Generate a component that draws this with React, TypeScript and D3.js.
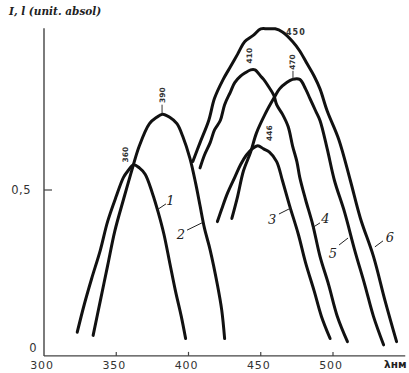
import React from 'react';
import * as d3 from 'd3';

const W = 409;
const H = 373;

// wavelength (nm) and intensity (unit. absol) for each curve
const curve1Wl = [323, 328, 333, 339, 344, 350, 355, 358, 362, 366, 370, 375, 379, 383, 387, 391, 395, 398];
const curve1I = [0.05, 0.14, 0.22, 0.31, 0.4, 0.48, 0.54, 0.56, 0.58, 0.57, 0.55, 0.49, 0.43, 0.36, 0.27, 0.18, 0.1, 0.03];

const curve2Wl = [334, 339, 344, 349, 355, 360, 366, 373, 378, 382, 387, 392, 396, 401, 405, 408, 411, 415, 420, 423, 425];
const curve2I = [0.04, 0.15, 0.26, 0.37, 0.47, 0.55, 0.64, 0.71, 0.73, 0.74, 0.73, 0.71, 0.67, 0.6, 0.52, 0.45, 0.38, 0.31, 0.2, 0.12, 0.03];

const curve3Wl = [420, 423, 427, 432, 436, 440, 444, 448, 452, 456, 461, 465, 470, 476, 481, 487, 492, 498];
const curve3I = [0.4, 0.44, 0.49, 0.54, 0.58, 0.61, 0.63, 0.64, 0.63, 0.62, 0.59, 0.53, 0.45, 0.36, 0.27, 0.18, 0.1, 0.03];

const curve4Wl = [408, 411, 415, 418, 422, 425, 429, 432, 436, 439, 443, 446, 450, 452, 455, 459, 461, 465, 469, 472, 475, 477, 481, 486, 491, 497, 503, 510];
const curve4I = [0.57, 0.61, 0.65, 0.69, 0.72, 0.77, 0.81, 0.84, 0.86, 0.87, 0.88, 0.88, 0.86, 0.85, 0.83, 0.8, 0.77, 0.74, 0.7, 0.64, 0.59, 0.54, 0.47, 0.39, 0.29, 0.2, 0.1, 0.02];

const curve5Wl = [430, 434, 438, 443, 447, 453, 459, 463, 468, 472, 477, 481, 484, 488, 491, 496, 501, 508, 515, 522, 528, 535];
const curve5I = [0.41, 0.48, 0.56, 0.62, 0.68, 0.74, 0.79, 0.82, 0.84, 0.85, 0.85, 0.82, 0.79, 0.75, 0.72, 0.63, 0.53, 0.43, 0.31, 0.2, 0.1, 0.01];

const curve6Wl = [403, 408, 414, 418, 424, 429, 434, 439, 445, 450, 455, 460, 465, 472, 477, 482, 487, 491, 496, 504, 512, 519, 528, 536, 544];
const curve6I = [0.59, 0.65, 0.72, 0.79, 0.85, 0.89, 0.93, 0.97, 0.99, 1.01, 1.01, 1.01, 1.0, 0.97, 0.94, 0.9, 0.86, 0.82, 0.75, 0.66, 0.53, 0.41, 0.29, 0.15, 0.02];

const curveWls = [curve1Wl, curve2Wl, curve3Wl, curve4Wl, curve5Wl, curve6Wl];
const curveIs = [curve1I, curve2I, curve3I, curve4I, curve5I, curve6I];

const curveNames = ['1', '2', '3', '4', '5', '6'];
// label position and leader (from -> to) in data coordinates
const nameLabelWl = [387.5, 394.8, 457.8, 494.8, 500.0, 539.4];
const nameLabelI = [0.468, 0.361, 0.408, 0.411, 0.301, 0.351];
const leaderFromWl = [384.4, 399.0, 462.6, 491.0, 504.2, 534.6];
const leaderFromI = [0.456, 0.373, 0.424, 0.396, 0.326, 0.339];
const leaderToWl = [378.2, 409.3, 470.9, 485.5, 510.4, 529.0];
const leaderToI = [0.437, 0.396, 0.443, 0.38, 0.348, 0.32];

const peakLabels = ['360', '390', '446', '410', '470', '450'];
const peakLabelWl = [356.1, 381.7, 455.9, 441.9, 471.8, 474.3];
const peakLabelI = [0.612, 0.8, 0.68, 0.925, 0.905, 1.0];
const peakRotated = [true, true, true, true, true, false];

const xTickValues = [300, 350, 400, 450, 500];
const xTickLabels = ['300', '350', '400', '450', '500'];
const yTickValues = [0, 0.5];
const yTickLabels = ['0', '0,5'];

export default function App() {
  const x = d3.scaleLinear().domain([300, 550]).range([44, 405.25]);
  const y = d3.scaleLinear().domain([0, 1]).range([348, 32]);
  const line = d3
    .line<[number, number]>()
    .x((d) => x(d[0]))
    .y((d) => y(d[1]))
    .curve(d3.curveCatmullRom.alpha(0.5));

  const axisY = y(-0.025);
  const axisTop = y(1.012);
  const tickFont = '"DejaVu Sans", sans-serif';

  return (
    <svg
      width={W}
      height={H}
      viewBox={`0 0 ${W} ${H}`}
      style={{ position: 'absolute', left: 0, top: 0, background: '#fff' }}
    >
      <rect x={0} y={0} width={W} height={H} fill="#fff" />
      {/* axes */}
      <line x1={x(300)} y1={axisTop} x2={x(300)} y2={axisY} stroke="#444" strokeWidth={1.4} />
      <line x1={x(300)} y1={axisY} x2={x(550)} y2={axisY} stroke="#444" strokeWidth={1.4} />
      {xTickValues.slice(1).map((v) => (
        <line key={'xt' + v} x1={x(v)} x2={x(v)} y1={axisY} y2={axisY - 4} stroke="#444" strokeWidth={1.2} />
      ))}
      <line x1={x(300)} x2={x(300) + 8} y1={y(0.5)} y2={y(0.5)} stroke="#444" strokeWidth={1.2} />
      {xTickValues.map((v, i) => (
        <text
          key={'xl' + v}
          x={x(v) - 2}
          y={369}
          textAnchor="middle"
          fontFamily={tickFont}
          fontSize={11}
          letterSpacing={0.8}
          fill="#333"
        >
          {xTickLabels[i]}
        </text>
      ))}
      <text x={384} y={368} fontFamily={tickFont} fontSize={10.5} fontWeight="bold" fill="#222">
        λнм
      </text>
      {yTickValues.map((v, i) => (
        <text
          key={'yl' + v}
          x={v === 0 ? 37 : 31}
          y={y(v) + 4}
          textAnchor="end"
          fontFamily={tickFont}
          fontSize={11.5}
          letterSpacing={0.5}
          fill="#333"
        >
          {yTickLabels[i]}
        </text>
      ))}
      <text
        x={9}
        y={15}
        fontFamily='"DejaVu Serif", serif'
        fontStyle="italic"
        fontWeight="bold"
        fontSize={10.5}
        fill="#222"
      >
        I, l (unit. absol)
      </text>

      {/* curves */}
      {curveWls.map((wl, i) => {
        const pts = wl.map((w, j) => [w, curveIs[i][j]] as [number, number]);
        return (
          <path
            key={'c' + i}
            d={line(pts) || ''}
            fill="none"
            stroke="#111"
            strokeWidth={3}
            strokeLinecap="round"
            strokeLinejoin="round"
          />
        );
      })}

      {/* curve numbers */}
      {curveNames.map((n, i) => (
        <g key={'n' + i}>
          <line
            x1={x(leaderFromWl[i])}
            y1={y(leaderFromI[i])}
            x2={x(leaderToWl[i])}
            y2={y(leaderToI[i])}
            stroke="#222"
            strokeWidth={1}
          />
          <text
            x={x(nameLabelWl[i])}
            y={y(nameLabelI[i]) + 5}
            textAnchor="middle"
            fontFamily='"DejaVu Serif", serif'
            fontStyle="italic"
            fontSize={13}
            fill="#222"
          >
            {n}
          </text>
        </g>
      ))}

      {/* peak labels */}
      {peakLabels.map((p, i) => {
        const px = x(peakLabelWl[i]);
        const py = y(peakLabelI[i]);
        return peakRotated[i] ? (
          <text
            key={'p' + i}
            transform={`translate(${px},${py}) rotate(-90)`}
            textAnchor="middle"
            dy="0.35em"
            fontFamily={tickFont}
            fontSize={7.5}
            fontWeight="bold"
            fill="#333"
          >
            {p}
          </text>
        ) : (
          <text
            key={'p' + i}
            x={px}
            y={py + 3}
            textAnchor="middle"
            fontFamily={tickFont}
            fontSize={8}
            fontWeight="bold"
            letterSpacing={1}
            fill="#333"
          >
            {p}
          </text>
        );
      })}
      <line x1={x(381.7)} x2={x(381.7)} y1={y(0.77)} y2={y(0.742)} stroke="#333" strokeWidth={1} />
      <line x1={x(472.3)} x2={x(472.3)} y1={y(0.877)} y2={y(0.852)} stroke="#333" strokeWidth={1} />
    </svg>
  );
}
